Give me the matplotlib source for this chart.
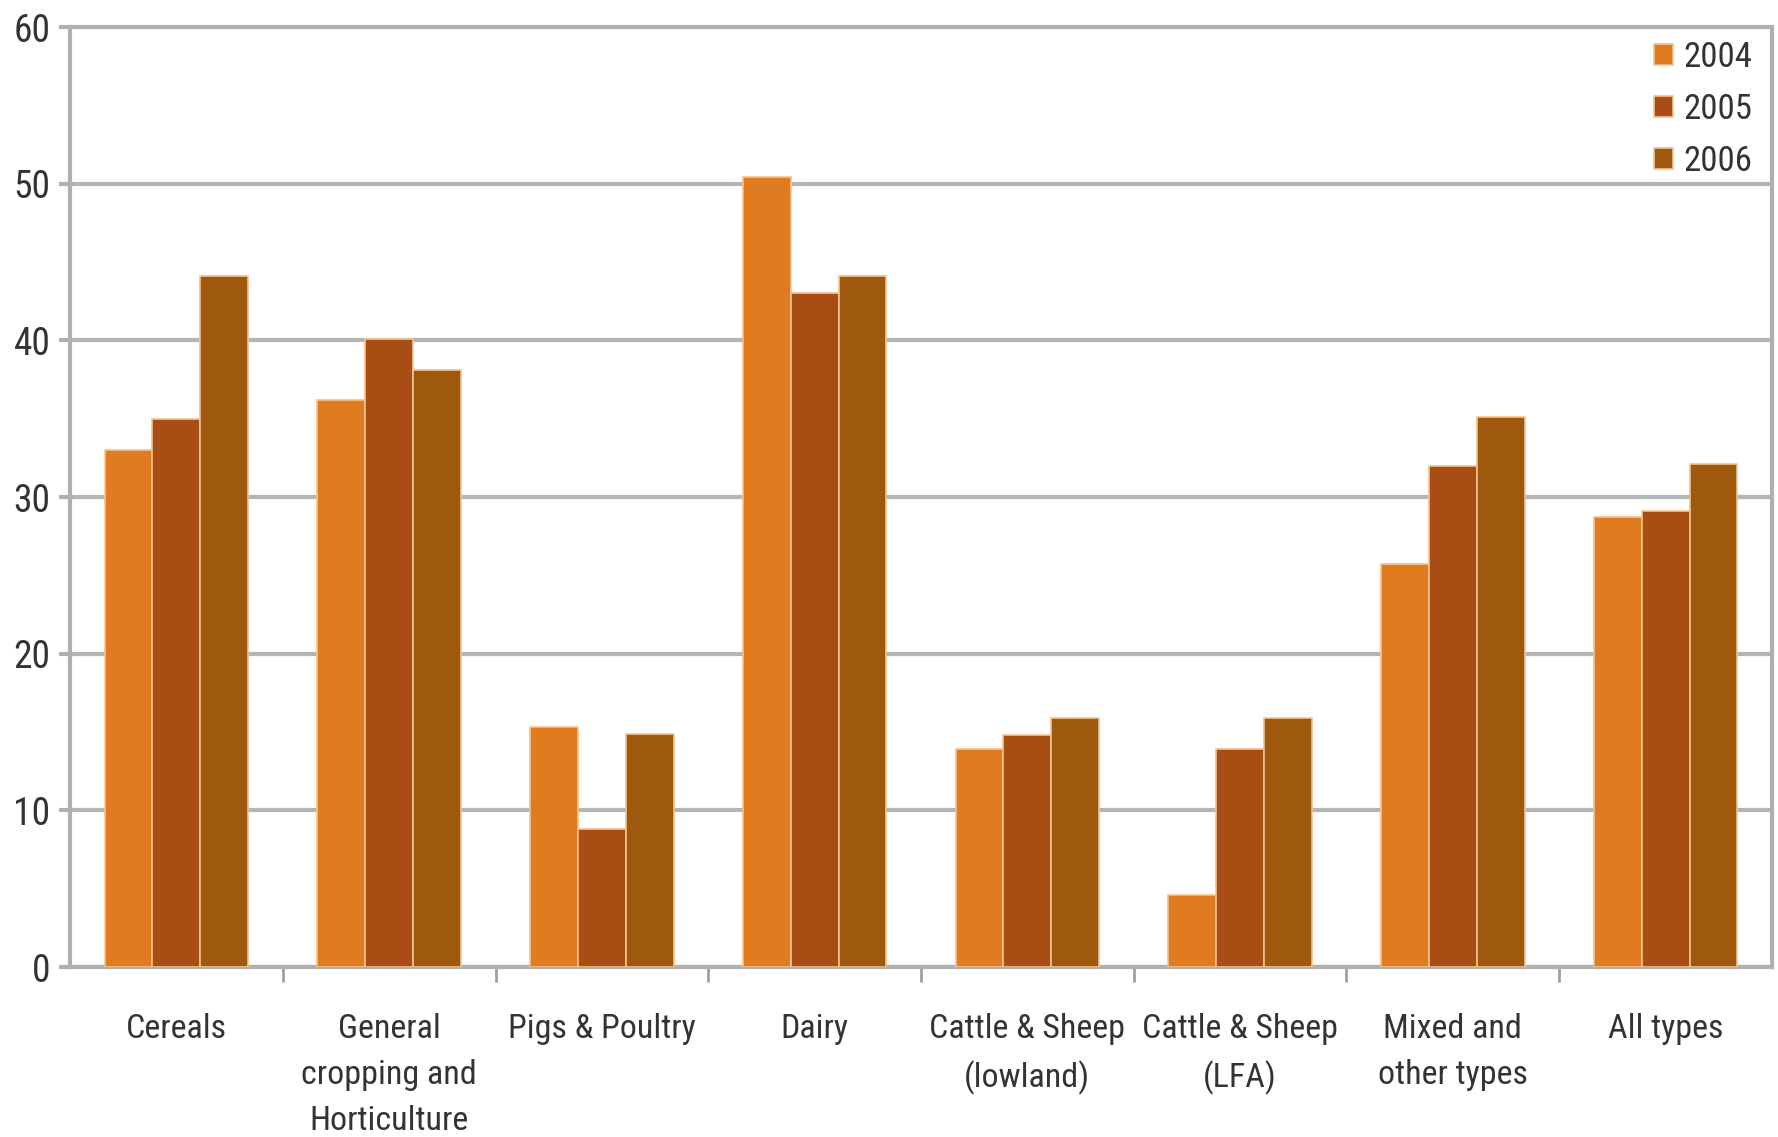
import matplotlib.pyplot as plt
import numpy as np

plt.rcParams['font.family'] = ['Roboto Condensed', 'Liberation Sans', 'DejaVu Sans']

# categorias e valores
categorias = ["Cereals", "General\ncropping and\nHorticulture", "Pigs & Poultry", "Dairy",
              "Cattle & Sheep\n(lowland)", "Cattle & Sheep\n(LFA)", "Mixed and\nother types", "All types"]
anos = ["2004", "2005", "2006"]
v2004 = [33, 36.2, 15.3, 50.4, 13.9, 4.6, 25.7, 28.7]
v2005 = [35, 40.1, 8.8, 43, 14.8, 13.9, 32, 29.1]
v2006 = [44.1, 38.1, 14.9, 44.1, 15.9, 15.9, 35.1, 32.1]
cores = ["#e07b1f", "#a84d14", "#9e590e"]

fig = plt.figure(figsize=(17.78, 11.37), dpi=100)
ax = fig.add_axes([0.0394, 0.1495, 0.9572, 0.8267])

x = np.arange(len(categorias))
larg = 0.225
for i, (vals, cor, ano) in enumerate(zip([v2004, v2005, v2006], cores, anos)):
    ax.bar(x + (i - 1) * larg, vals, width=larg, color=cor, edgecolor="#f3c391",
           linewidth=1.2, label=ano, zorder=3)

ax.set_xlim(-0.5, len(categorias) - 0.5)
ax.set_ylim(0, 60)
ax.set_yticks(range(0, 61, 10))
ax.grid(axis="y", color="#b5b5b5", linewidth=3, zorder=0)

for lado in ["left", "right", "top", "bottom"]:
    ax.spines[lado].set_color("#b0b0b0")
    ax.spines[lado].set_linewidth(3)

ax.set_xticks(x)
ax.set_xticklabels(categorias, fontsize=24.5, color="#333333", linespacing=1.57)
ax.set_xticks(np.arange(0.5, len(categorias) - 1, 1), minor=True)
ax.tick_params(axis="x", which="major", length=0, pad=33)
ax.tick_params(axis="x", which="minor", length=11, width=2, color="#a0a0a0")
ax.tick_params(axis="y", length=8, width=3, color="#b0b0b0", labelsize=27,
               labelcolor="#333333", pad=6)

leg = ax.legend(loc="upper right", bbox_to_anchor=(1.0, 1.006), frameon=False,
                fontsize=25, handlelength=0.55, handleheight=0.55, handletextpad=0.3,
                labelspacing=0.55, borderaxespad=0.15, labelcolor="#333333")

plt.savefig("out.png", dpi=100)
plt.close()
